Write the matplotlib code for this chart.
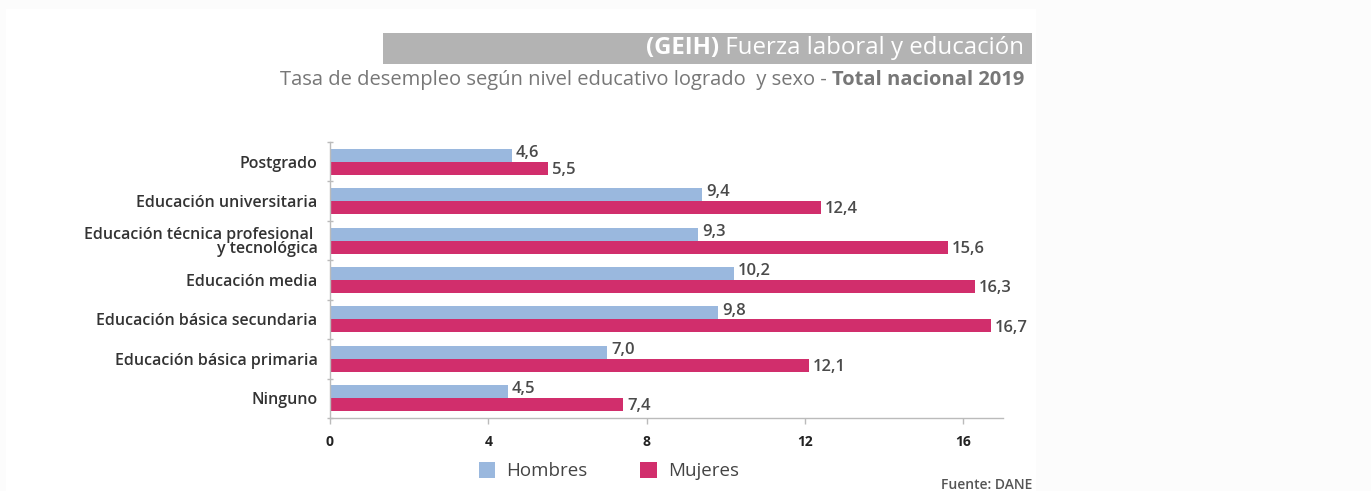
import matplotlib
matplotlib.use("Agg")
import matplotlib.pyplot as plt
from matplotlib.patches import Rectangle
import numpy as np

plt.rcParams['font.family'] = ['Open Sans', 'DejaVu Sans']

categories = ["Postgrado", "Educación universitaria",
              "Educación técnica profesional \ny tecnológica",
              "Educación media", "Educación básica secundaria",
              "Educación básica primaria", "Ninguno"]
hombres = [4.6, 9.4, 9.3, 10.2, 9.8, 7.0, 4.5]
mujeres = [5.5, 12.4, 15.6, 16.3, 16.7, 12.1, 7.4]
xticks = [0, 4, 8, 12, 16]

W, H = 1371, 491
fig = plt.figure(figsize=(W / 100, H / 100), dpi=100, facecolor='#fcfcfc')
fig.patches.append(Rectangle((6 / W, 0), (1036 - 6) / W, 1 - 9 / H,
                             transform=fig.transFigure, facecolor='white',
                             edgecolor='none', zorder=-10))

ax = fig.add_axes([330 / W, 1 - 418 / H, (1003 - 330) / W, (418 - 142) / H])
ax.set_facecolor('white')

y = np.arange(len(categories))
h = 0.33
c_h = '#9ab8de'
c_m = '#d12e6c'
bh = ax.barh(y - h / 2, hombres, height=h, color=c_h, label='Hombres')
bm = ax.barh(y + h / 2, mujeres, height=h, color=c_m, label='Mujeres')
ax.set_ylim(len(categories) - 0.5, -0.5)
ax.set_xlim(0, 17)

fmt = lambda v: f"{v:.1f}".replace('.', ',')
for bars, vals, dy in ((bh, hombres, -0.06), (bm, mujeres, 0.04)):
    for b, v in zip(bars, vals):
        ax.text(v + 0.1, b.get_y() + b.get_height() / 2 + dy, fmt(v),
                ha='left', va='center', fontsize=12, color='#4a4a4a',
                fontweight='semibold')

ax.set_yticks(y)
ax.set_yticklabels(categories, fontsize=11.5, color='#333333', fontweight='semibold',
                   linespacing=0.9)
ax.set_yticks(np.arange(-0.5, len(categories), 1), minor=True)
ax.tick_params(axis='y', which='major', length=0, pad=9)
ax.tick_params(axis='y', which='minor', length=4, direction='inout', color='#bbbbbb', width=1)

ax.set_xticks(xticks)
ax.set_xticklabels([str(t) for t in xticks], fontsize=10, fontweight='bold', color='#222222')
ax.tick_params(axis='x', length=4, color='#bbbbbb', width=1, pad=8)

for s in ['top', 'right']:
    ax.spines[s].set_visible(False)
for s in ['left', 'bottom']:
    ax.spines[s].set_color('#bbbbbb')
    ax.spines[s].set_linewidth(1)

leg = fig.legend(handles=[bh, bm], labels=['Hombres', 'Mujeres'], ncol=2,
                 loc='center', bbox_to_anchor=(609 / W, 1 - 471 / H),
                 frameon=False, fontsize=13.5, handlelength=0.9, handleheight=1.0,
                 columnspacing=2.8, handletextpad=0.6)
for t in leg.get_texts():
    t.set_color('#444444')

fig.text(1032 / W, 1 - 485 / H, "Fuente: DANE", ha='right', va='center',
         fontsize=10, color='#555555', fontweight='semibold')

# Title box
fig.patches.append(Rectangle((383 / W, 1 - 64 / H), (1032 - 383) / W, 31 / H,
                             transform=fig.transFigure, facecolor='#b3b3b3',
                             edgecolor='none', zorder=-5))
fig.canvas.draw()
r = fig.canvas.get_renderer()

def right_pair(xr, yc, t_norm, t_bold, size, color, order_bold_first):
    t2 = fig.text(xr / W, 1 - yc / H, t_norm if order_bold_first else t_bold,
                  ha='right', va='center', fontsize=size, color=color,
                  fontweight='normal' if order_bold_first else 'bold')
    bb = t2.get_window_extent(r)
    fig.text(bb.x0 / W, 1 - yc / H, t_bold if order_bold_first else t_norm,
             ha='right', va='center', fontsize=size, color=color,
             fontweight='bold' if order_bold_first else 'normal')

right_pair(1024, 48, " Fuerza laboral y educación", "(GEIH)", 17.3, 'white', True)
right_pair(1024, 80, "Tasa de desempleo según nivel educativo logrado  y sexo - ",
           "Total nacional 2019", 14.5, '#777777', False)

fig.savefig('out.png', dpi=100, facecolor=fig.get_facecolor())
